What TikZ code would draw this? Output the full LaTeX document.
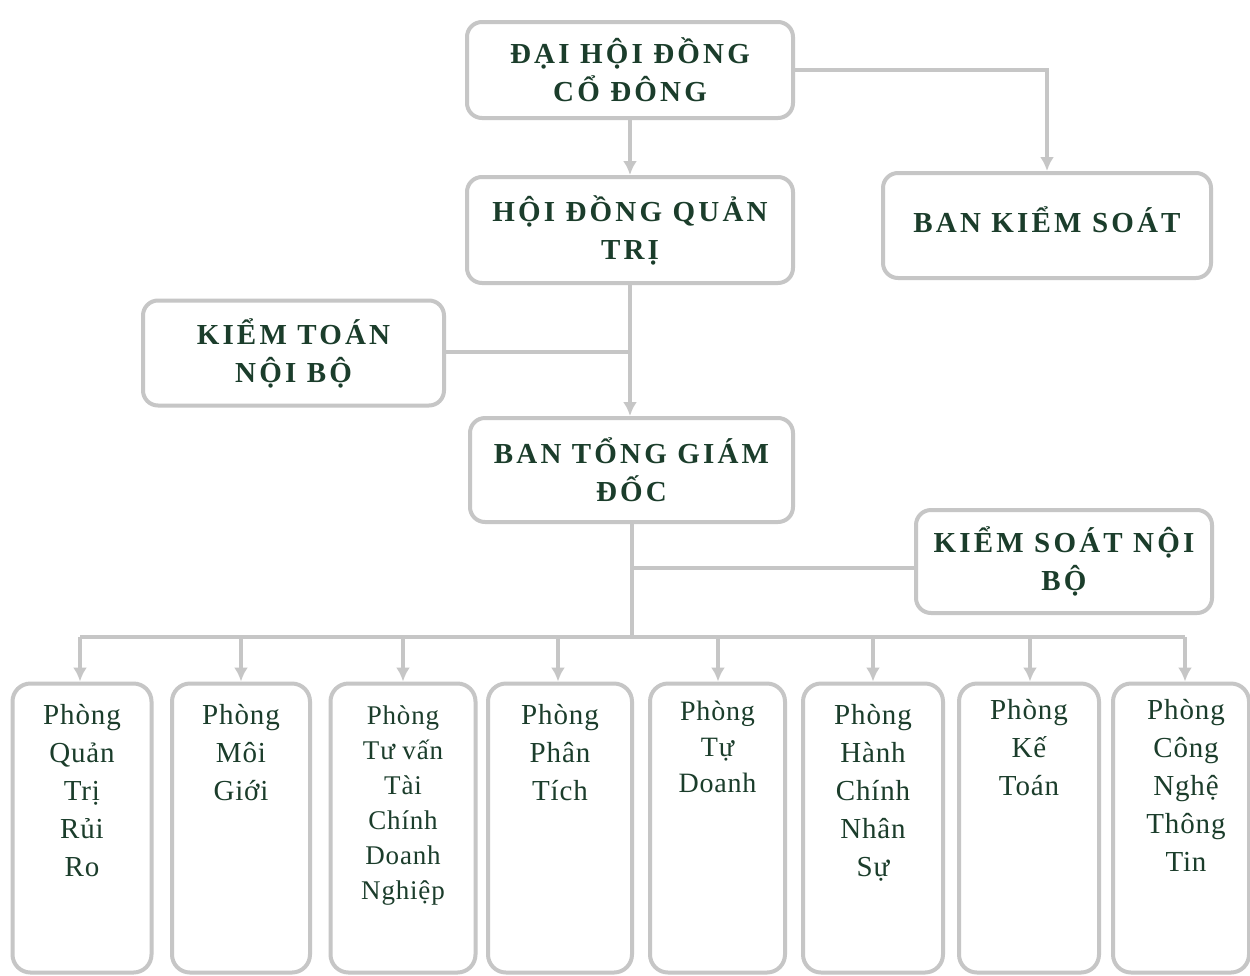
\documentclass[tikz,border=0pt]{standalone}
\usepackage{fontspec}
\setmainfont{Liberation Serif}
\newfontfamily\hdfont[LetterSpace=11]{Liberation Serif}
\newfontfamily\dpfont[LetterSpace=3]{Liberation Serif}
\usetikzlibrary{arrows.meta}
\definecolor{txt}{HTML}{1B3D2B}
\definecolor{ln}{HTML}{C6C6C6}
\begin{document}
\begin{tikzpicture}[x=1pt,y=-1pt,
  topbox/.style={draw=ln,line width=4pt,rounded corners=15pt,inner sep=0pt,align=center,
     text=txt,font=\hdfont\bfseries\fontsize{29}{38}\selectfont},
  dpbox/.style={draw=ln,line width=4pt,rounded corners=18pt,inner sep=0pt,
     minimum height=289pt},
  dptext/.style={anchor=north,align=center,text=txt,inner sep=0pt,
     font=\dpfont\fontsize{29}{38}\selectfont},
  conn/.style={draw=ln,line width=3.5pt},
  arr/.style={conn,-{Latex[length=14pt,width=14pt]}}]
\useasboundingbox[fill=white] (0,0) rectangle (1250,975);

\node[topbox,minimum width=326pt,minimum height=96pt] (dhd) at (630,70) {ĐẠI HỘI ĐỒNG\\CỔ ĐÔNG};
\node[topbox,minimum width=326pt,minimum height=106pt] (hdqt) at (630,230) {HỘI ĐỒNG QUẢN\\TRỊ};
\node[topbox,minimum width=328pt,minimum height=105pt] (bks) at (1047,225.5) {\raisebox{12pt}{BAN KIỂM SOÁT}};
\node[topbox,minimum width=301pt,minimum height=105pt] (ktnb) at (293.5,353) {KIỂM TOÁN\\NỘI BỘ};
\node[topbox,minimum width=323pt,minimum height=104pt] (btgd) at (631.5,470) {BAN TỔNG GIÁM\\ĐỐC};
\node[topbox,minimum width=296pt,minimum height=103pt] (ksnb) at (1064,561.5) {KIỂM SOÁT NỘI\\BỘ};

% bottom departments
\node[dpbox,minimum width=139pt] (p1) at (82,828) {};
\node[dpbox,minimum width=138pt] (p2) at (241,828) {};
\node[dpbox,minimum width=145pt] (p3) at (403,828) {};
\node[dpbox,minimum width=144pt] (p4) at (560,828) {};
\node[dpbox,minimum width=135pt] (p5) at (717.5,828) {};
\node[dpbox,minimum width=140pt] (p6) at (873,828) {};
\node[dpbox,minimum width=140pt] (p7) at (1029,828) {};
\node[dpbox,minimum width=136pt] (p8) at (1181,828) {};

\node[dptext] (t1) at (82,704) {Phòng\\Quản\\Trị\\Rủi\\Ro};
\node[dptext] (t2) at (241,704) {Phòng\\Môi\\Giới};
\node[dptext,font=\dpfont\fontsize{27}{35}\selectfont] (t3) at (403,706) {Phòng\\Tư vấn\\Tài\\Chính\\Doanh\\Nghiệp};
\node[dptext] (t4) at (560,704) {Phòng\\Phân\\Tích};
\node[dptext,font=\dpfont\fontsize{28}{36}\selectfont] (t5) at (717.5,701) {Phòng\\Tự\\Doanh};
\node[dptext] (t6) at (873,704) {Phòng\\Hành\\Chính\\Nhân\\Sự};
\node[dptext] (t7) at (1029,699) {Phòng\\Kế\\Toán};
\node[dptext] (t8) at (1186,699) {Phòng\\Công\\Nghệ\\Thông\\Tin};

% connectors
\coordinate (j1) at (630,352);
\coordinate (j2) at (632,568);
\coordinate (bus) at (632,637);
\coordinate (busL) at (80,637);
\coordinate (busR) at (1185,637);

\draw[arr] (dhd.south) -- (hdqt.north);
\draw[arr] (dhd.east) -- (dhd.east -| bks.north) -- (bks.north);
\draw[arr] (hdqt.south) -- (btgd.north -| hdqt.south);
\draw[conn] (ktnb.east |- j1) -- (j1);
\draw[conn] (btgd.south -| bus) -- (bus);
\draw[conn] (ksnb.west |- j2) -- (j2);
\draw[conn] (busL) -- (busR);
\foreach \i/\x in {1/80,2/241,3/403,4/558,5/718,6/873,7/1030,8/1185}{
  \draw[arr] (\x,637) -- (p\i.north -| {(\x,0)});
}
\end{tikzpicture}
\end{document}
